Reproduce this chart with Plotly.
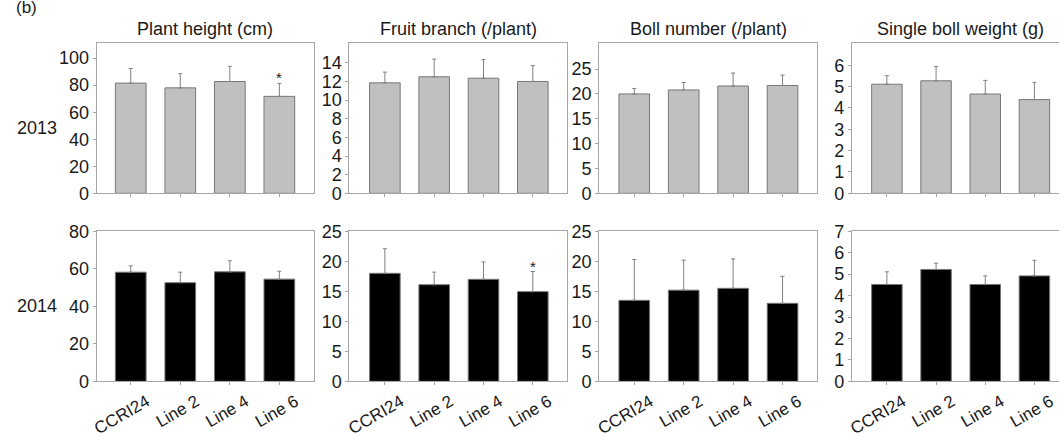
import plotly.graph_objects as go

# ---------------- data ----------------
traits = ["Plant height (cm)", "Fruit branch (/plant)", "Boll number (/plant)", "Single boll weight (g)"]
lines = ["CCRI24", "Line 2", "Line 4", "Line 6"]
years = ["2013", "2014"]

height_2013 = [81.5, 78.0, 82.7, 71.7]
height_2013_err = [10.8, 10.5, 11.2, 9.6]
branch_2013 = [11.85, 12.5, 12.35, 12.0]
branch_2013_err = [1.15, 1.9, 2.0, 1.7]
boll_2013 = [20.0, 20.8, 21.6, 21.7]
boll_2013_err = [1.1, 1.5, 2.6, 2.1]
weight_2013 = [5.11, 5.27, 4.65, 4.39]
weight_2013_err = [0.40, 0.67, 0.64, 0.81]

height_2014 = [58.2, 52.6, 58.4, 54.5]
height_2014_err = [3.4, 5.6, 5.9, 4.2]
branch_2014 = [18.0, 16.1, 17.0, 14.95]
branch_2014_err = [4.1, 2.1, 2.9, 3.35]
boll_2014 = [13.5, 15.2, 15.5, 13.0]
boll_2014_err = [6.8, 5.0, 4.9, 4.5]
weight_2014 = [4.52, 5.22, 4.52, 4.92]
weight_2014_err = [0.59, 0.29, 0.40, 0.73]

sig_height_2013 = ["", "", "", "*"]
sig_branch_2014 = ["", "", "", "*"]
no_sig = ["", "", "", ""]

ymax_2013 = [111, 16.1, 30.2, 7.03]
ymax_2014 = [80, 25, 25, 7]
yticks_2013 = [[0, 20, 40, 60, 80, 100], [0, 2, 4, 6, 8, 10, 12, 14],
               [0, 5, 10, 15, 20, 25], [0, 1, 2, 3, 4, 5, 6]]
yticks_2014 = [[0, 20, 40, 60, 80], [0, 5, 10, 15, 20, 25],
               [0, 5, 10, 15, 20, 25], [0, 1, 2, 3, 4, 5, 6, 7]]

rows = [
    [(height_2013, height_2013_err, sig_height_2013),
     (branch_2013, branch_2013_err, no_sig),
     (boll_2013, boll_2013_err, no_sig),
     (weight_2013, weight_2013_err, no_sig)],
    [(height_2014, height_2014_err, no_sig),
     (branch_2014, branch_2014_err, sig_branch_2014),
     (boll_2014, boll_2014_err, no_sig),
     (weight_2014, weight_2014_err, no_sig)],
]
row_colors = ["#c0c0c0", "#000000"]
ymaxes = [ymax_2013, ymax_2014]
yticks = [yticks_2013, yticks_2014]

# ---------------- layout geometry (pixels) ----------------
W, H = 1059, 438
col_px = [(92, 310), (346, 565), (597, 816), (851, 1059)]
row_px = [(35, 193), (233, 391)]
xranges = [[-0.69, 3.69], [-0.72, 3.70], [-0.71, 3.70], [-0.71, 3.50]]

FONT = "Liberation Sans, Arial, sans-serif"
TXT = "#1a1a1a"
FRAME = "#a6a6a6"
EDGE = "#777777"

fig = go.Figure()
layout = dict(
    width=W, height=H, autosize=False,
    margin=dict(l=0, r=0, t=0, b=0),
    paper_bgcolor="white", plot_bgcolor="white",
    showlegend=False,
    font=dict(family=FONT, size=17, color=TXT),
)
annotations = []

for r in range(2):
    for c in range(4):
        idx = r * 4 + c + 1
        xa = "x" if idx == 1 else f"x{idx}"
        ya = "y" if idx == 1 else f"y{idx}"
        means, errs, sig = rows[r][c]
        fig.add_trace(go.Bar(
            x=lines, y=means, xaxis=xa, yaxis=ya, width=0.62,
            marker=dict(color=row_colors[r], line=dict(color=EDGE, width=1)),
            error_y=dict(type="data", symmetric=False, array=errs,
                         arrayminus=[0] * len(errs), color="#808080",
                         thickness=1, width=2),
            hoverinfo="skip",
        ))
        x0, x1 = col_px[c]
        y0, y1 = row_px[r]
        layout["xaxis" if idx == 1 else f"xaxis{idx}"] = dict(
            domain=[x0 / W, x1 / W], range=xranges[c], anchor=ya,
            showline=True, linecolor=FRAME, linewidth=1, mirror=True,
            showgrid=False, zeroline=False,
            ticks="outside", ticklen=3, tickcolor=FRAME, tickwidth=1,
            showticklabels=(r == 1), tickangle=-30, ticklabelshift=16,
            tickfont=dict(family=FONT, size=17, color=TXT),
            categoryorder="array", categoryarray=lines,
        )
        layout["yaxis" if idx == 1 else f"yaxis{idx}"] = dict(
            domain=[1 - y1 / H, 1 - y0 / H], range=[0, ymaxes[r][c]], anchor=xa,
            showline=True, linecolor=FRAME, linewidth=1, mirror=(c != 3),
            showgrid=False, zeroline=False,
            tickmode="array", tickvals=yticks[r][c],
            ticks="outside", ticklen=3, tickcolor=FRAME, tickwidth=1,
            tickfont=dict(family=FONT, size=18, color=TXT),
        )
        for i, s in enumerate(sig):
            if s:
                annotations.append(dict(
                    xref=xa, yref=ya, x=lines[i], y=means[i] + errs[i],
                    text=s, showarrow=False, yanchor="bottom", yshift=-5,
                    font=dict(family=FONT, size=15, color=TXT)))

# panel titles
for c, t in enumerate(traits):
    x0, x1 = col_px[c]
    cx = (x0 + x1) / 2 if c < 3 else (x0 + 1069) / 2
    annotations.append(dict(
        xref="paper", yref="paper", x=cx / W, y=1 - 20 / H, text=t,
        showarrow=False, xanchor="center", yanchor="middle",
        font=dict(family=FONT, size=18, color=TXT)))

# year labels
for r, yr in enumerate(years):
    cy = 124 if r == 0 else 312
    annotations.append(dict(
        xref="paper", yref="paper", x=32 / W, y=1 - cy / H, text=yr,
        showarrow=False, xanchor="center", yanchor="middle",
        font=dict(family=FONT, size=18, color=TXT)))

annotations.append(dict(
    xref="paper", yref="paper", x=22 / W, y=1 + 3 / H, text="(b)",
    showarrow=False, xanchor="center", yanchor="middle",
    font=dict(family=FONT, size=17, color=TXT)))

layout["annotations"] = annotations
fig.update_layout(**layout)
fig.write_html(
    "out.html",
    config={"displayModeBar": False},
    post_script="document.body.style.margin='0';document.body.style.overflow='hidden';",
)
